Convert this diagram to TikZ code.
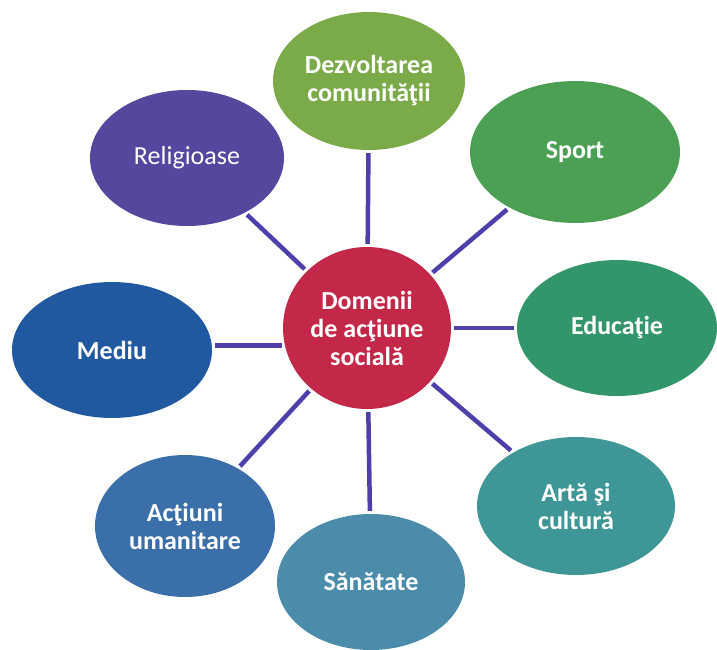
\documentclass[tikz,border=0pt]{standalone}
\usepackage{fontspec}
\setmainfont{Carlito}
\usetikzlibrary{shapes.geometric}
\definecolor{hubred}{HTML}{C42848}
\definecolor{linkblue}{HTML}{4E40AA}
\definecolor{dezcol}{HTML}{7BAA48}
\definecolor{sportcol}{HTML}{4CA054}
\definecolor{educol}{HTML}{33966A}
\definecolor{artacol}{HTML}{3F9696}
\definecolor{sancol}{HTML}{4A8CAA}
\definecolor{actcol}{HTML}{3A6FAA}
\definecolor{mediucol}{HTML}{2159A0}
\definecolor{relcol}{HTML}{55479E}
\begin{document}
\begin{tikzpicture}[x=1pt, y=-1pt,
    bubble/.style={ellipse, draw=none, inner sep=0pt, text=white, align=center,
      font=\fontsize{26}{28}\selectfont\bfseries},
    link/.style={draw=linkblue, line width=4.5pt, shorten <=3pt, shorten >=3pt}]
    \useasboundingbox (0,0) rectangle (717,650);
    \node[bubble, fill=hubred, minimum width=168pt, minimum height=162pt] (hub) at (367,328) {Domenii\\de ac\c{t}iune\\social\u{a}};

    \node[bubble, fill=dezcol, minimum width=192pt, minimum height=138pt] (dez) at (369,81) {Dezvoltarea\\comunit\u{a}\c{t}ii};
    \node[bubble, fill=sportcol, minimum width=210pt, minimum height=142pt] (sport) at (575,152) {Sport};
    \node[bubble, fill=educol, minimum width=200pt, minimum height=136pt] (edu) at (617,328) {Educa\c{t}ie};
    \node[bubble, fill=artacol, minimum width=198pt, minimum height=138pt] (arta) at (576,506) {Art\u{a} \c{s}i\\cultur\u{a}};
    \node[bubble, fill=sancol, minimum width=188pt, minimum height=136pt] (san) at (371,582) {S\u{a}n\u{a}tate};
    \node[bubble, fill=actcol, minimum width=180pt, minimum height=142pt] (act) at (185,526) {Ac\c{t}iuni\\umanitare};
    \node[bubble, fill=mediucol, minimum width=200pt, minimum height=136pt] (mediu) at (112,350) {Mediu};
    \node[bubble, fill=relcol, minimum width=194pt, minimum height=136pt, font=\fontsize{26}{28}\selectfont\mdseries] (rel) at (187,158) {Religioase};

    \foreach \x in {dez, sport, edu, arta, san, act, rel}
        \draw[link] (hub) -- (\x);
    \draw[link] (hub.192) -- (hub.192 -| mediu.east);
\end{tikzpicture}
\end{document}
